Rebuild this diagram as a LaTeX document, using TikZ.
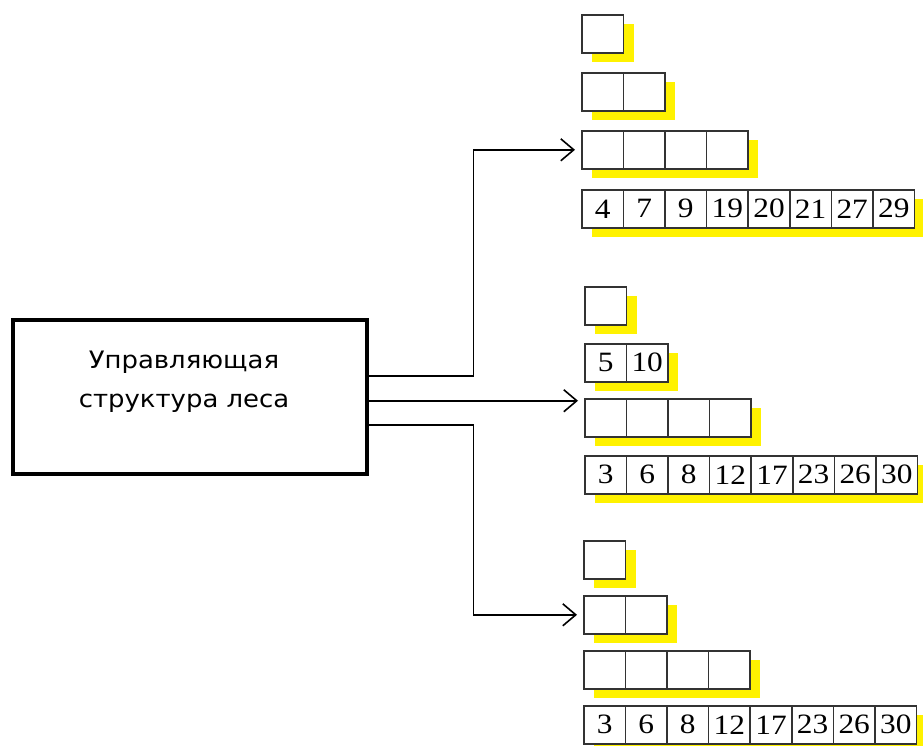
\documentclass[tikz,border=0pt]{standalone}
\usepackage{fontspec}
\setmainfont{Liberation Serif}
\newfontfamily\numfont[FakeStretch=1.12]{Liberation Serif}
\newfontfamily\labfont[FakeStretch=1.08]{DejaVu Sans}
\usetikzlibrary{arrows.meta}
\tikzset{
  cell/.style={draw=black!80, line width=1.6pt, fill=white, minimum width=41.6pt,
    minimum height=38pt, inner sep=0pt, anchor=north west,
    font=\numfont\fontsize{28}{30}\selectfont},
  conn/.style={line width=1.6pt, -{Straight Barb[length=13pt,width=22pt,line width=1.6pt]}, shorten >=6pt},
  mainbox/.style={draw, line width=3.5pt, minimum width=354pt, minimum height=154pt, anchor=north west, inner sep=0pt},
}
\newcommand\mkrow[5]{%
  \fill[yellow] ({#2+11},{#3+10}) rectangle ++({#4*41.6},38);
  \foreach \lab [count=\i from 0] in {#5} {\node[cell] (#1c\i) at ({#2+\i*41.6},#3) {\lab};}
}
\begin{document}
\begin{tikzpicture}[x=1pt,y=-1pt]
\useasboundingbox (0,0) rectangle (923,746);
% main box
\node[mainbox] (main) at (11,318) {};
\node[font=\labfont\fontsize{24}{39}\selectfont, align=center] (lbl) at (184,382) {Управляющая\\структура леса};
% group 1
\mkrow{g1r1}{581}{14}{1}{{}}
\mkrow{g1r2}{581}{72}{2}{{},{}}
\mkrow{g1r3}{581}{130}{4}{{},{},{},{}}
\mkrow{g1r4}{581}{189}{8}{4,7,9,19,20,21,27,29}
% group 2
\mkrow{g2r1}{584}{286}{1}{{}}
\mkrow{g2r2}{584}{343}{2}{5,10}
\mkrow{g2r3}{584}{398}{4}{{},{},{},{}}
\mkrow{g2r4}{584}{455}{8}{3,6,8,12,17,23,26,30}
% group 3
\mkrow{g3r1}{583}{540}{1}{{}}
\mkrow{g3r2}{583}{595}{2}{{},{}}
\mkrow{g3r3}{583}{650}{4}{{},{},{},{}}
\mkrow{g3r4}{583}{705}{8}{3,6,8,12,17,23,26,30}
% connectors
\coordinate (e1) at ([yshift=21pt]main.east);
\coordinate (e2) at ([yshift=-4pt]main.east);
\coordinate (e3) at ([yshift=-28pt]main.east);
\draw[conn] (e1) -- ++(105,0) |- (g1r3c0.west);
\draw[conn] (e2) -- (e2 -| g2r3c0.west);
\draw[conn] (e3) -- ++(105,0) |- (g3r2c0.west);
\end{tikzpicture}
\end{document}
